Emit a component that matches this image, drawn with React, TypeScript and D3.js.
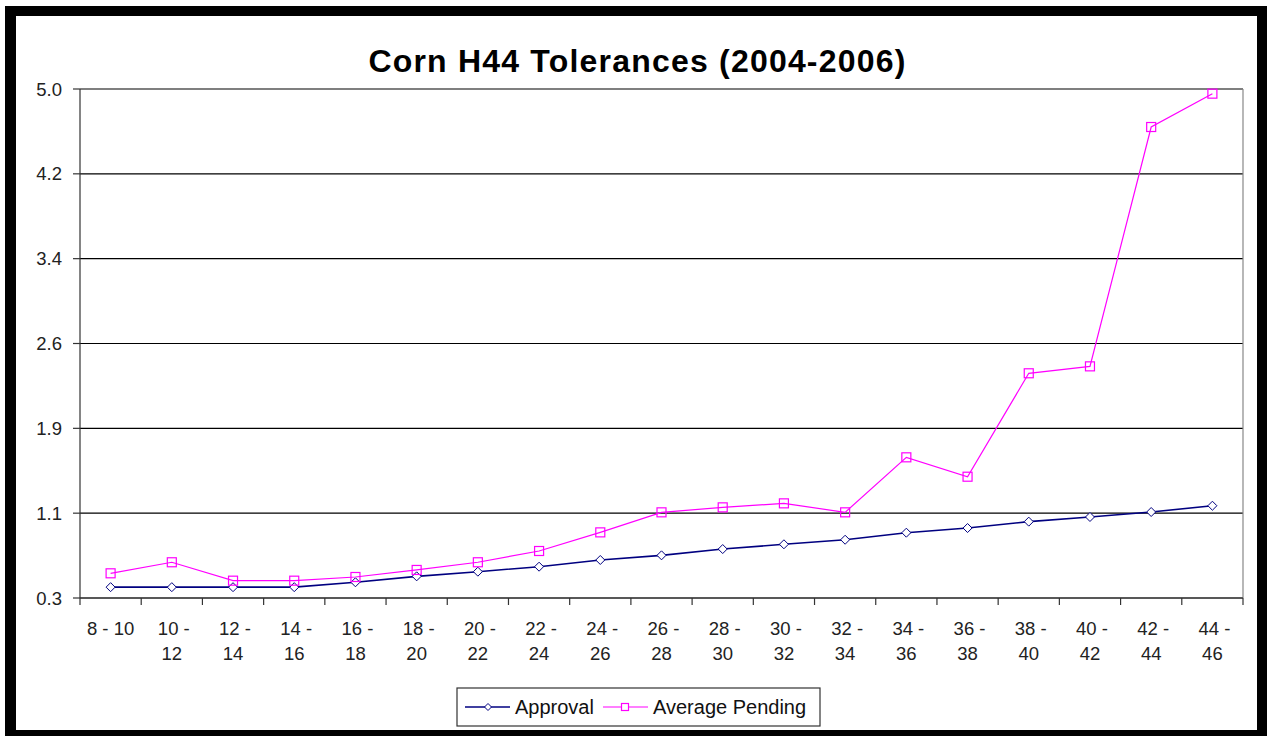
import * as d3 from 'd3';

const categories = [
  '8 - 10', '10 - 12', '12 - 14', '14 - 16', '16 - 18', '18 - 20', '20 - 22',
  '22 - 24', '24 - 26', '26 - 28', '28 - 30', '30 - 32', '32 - 34', '34 - 36',
  '36 - 38', '38 - 40', '40 - 42', '42 - 44', '44 - 46',
];

const approval = [
  0.40, 0.40, 0.40, 0.40, 0.445, 0.50, 0.543, 0.589, 0.651, 0.694,
  0.752, 0.796, 0.838, 0.903, 0.946, 1.005, 1.048, 1.094, 1.152,
];

const averagePending = [
  0.528, 0.63, 0.46, 0.46, 0.494, 0.559, 0.63, 0.734, 0.906, 1.091,
  1.137, 1.174, 1.091, 1.599, 1.42, 2.375, 2.439, 4.649, 4.957,
];

const yTickLabels = ['0.3', '1.1', '1.9', '2.6', '3.4', '4.2', '5.0'];
const yMin = 0.3;
const yMax = 5.0;

const W = 1267;
const H = 736;
const plot = { left: 80, right: 1243, top: 89, bottom: 598 };
const FONT = 'Arial, "Liberation Sans", sans-serif';
const NAVY = '#000080';
const MAGENTA = '#ff00ff';

function diamond(cx: number, cy: number, r: number) {
  return `M${cx},${cy - r}L${cx + r},${cy}L${cx},${cy + r}L${cx - r},${cy}Z`;
}

export default function App() {
  const x = d3
    .scaleBand<string>()
    .domain(categories)
    .range([plot.left, plot.right]);
  const y = d3.scaleLinear().domain([yMin, yMax]).range([plot.bottom, plot.top]);
  const cx = (c: string) => (x(c) || 0) + x.bandwidth() / 2;

  const yTicks = d3.range(yTickLabels.length).map((i) => yMin + (i * (yMax - yMin)) / (yTickLabels.length - 1));

  const line = d3
    .line<number>()
    .x((_, i) => cx(categories[i]))
    .y((d) => y(d));

  const boundaries = categories.map((c) => x(c) || 0).concat([plot.right]);

  return (
    <svg width={W} height={H} style={{ position: 'absolute', left: 0, top: 0, background: '#fff' }} fontFamily={FONT}>
      <rect x={5} y={6} width={W - 5} height={H - 6} fill="#000" />
      <rect x={16} y={16} width={1241} height={714} fill="#fff" />

      <text x={637.5} y={72} textAnchor="middle" fontSize={32} fontWeight="bold" letterSpacing={1.2} fill="#000">
        Corn H44 Tolerances (2004-2006)
      </text>

      {/* gridlines */}
      {yTicks.map((t, i) => (
        <line key={'g' + i} x1={plot.left} x2={plot.right} y1={y(t)} y2={y(t)} stroke="#000" strokeWidth={1.2} />
      ))}
      <line x1={plot.right} x2={plot.right} y1={plot.top} y2={plot.bottom} stroke="#888" strokeWidth={1.2} />

      {/* y axis */}
      <line x1={plot.left} x2={plot.left} y1={plot.top} y2={plot.bottom} stroke="#333" strokeWidth={1.2} />
      {yTicks.map((t, i) => (
        <g key={'y' + i}>
          <line x1={plot.left - 7} x2={plot.left} y1={y(t)} y2={y(t)} stroke="#333" strokeWidth={1.2} />
          <text x={62} y={y(t) + 6.5} textAnchor="end" fontSize={18.5} fill="#222">
            {yTickLabels[i]}
          </text>
        </g>
      ))}

      {/* x axis */}
      <line x1={plot.left} x2={plot.right} y1={plot.bottom} y2={plot.bottom} stroke="#333" strokeWidth={1.2} />
      {boundaries.map((b, i) => (
        <line key={'xt' + i} x1={b} x2={b} y1={plot.bottom} y2={plot.bottom + 7} stroke="#333" strokeWidth={1.2} />
      ))}
      {categories.map((c) => {
        const parts = c.split(' - ');
        const lines = c.length > 6 ? [parts[0] + ' -', parts[1]] : [c];
        return (
          <text key={'xl' + c} textAnchor="middle" fontSize={18.5} fill="#222">
            {lines.map((l, j) => (
              <tspan key={j} x={cx(c) + (lines.length > 1 && j === 0 ? 2 : 0)} y={635 + j * 25}>
                {l}
              </tspan>
            ))}
          </text>
        );
      })}

      {/* series */}
      <path d={line(approval) || ''} fill="none" stroke={NAVY} strokeWidth={1.6} />
      {approval.map((v, i) => (
        <path key={'a' + i} d={diamond(cx(categories[i]), y(v), 4.5)} fill="#fff" stroke={NAVY} strokeWidth={1} />
      ))}
      <path d={line(averagePending) || ''} fill="none" stroke={MAGENTA} strokeWidth={1.2} />
      {averagePending.map((v, i) => (
        <rect key={'p' + i} x={cx(categories[i]) - 4.5} y={y(v) - 4.5} width={9} height={9} fill="none" stroke={MAGENTA} strokeWidth={1.2} />
      ))}

      {/* legend */}
      <rect x={457} y={688} width={363} height={38} fill="#fff" stroke="#333" strokeWidth={1.2} />
      <line x1={465} x2={510} y1={707} y2={707} stroke={NAVY} strokeWidth={1.6} />
      <path d={diamond(488, 707, 3.5)} fill="#fff" stroke={NAVY} strokeWidth={1} />
      <text x={515} y={714} fontSize={20} fill="#111">Approval</text>
      <line x1={603} x2={648} y1={707} y2={707} stroke={MAGENTA} strokeWidth={1.2} />
      <rect x={621.5} y={703.5} width={7} height={7} fill="#fff" stroke={MAGENTA} strokeWidth={1.2} />
      <text x={653} y={714} fontSize={20} fill="#111">Average Pending</text>
    </svg>
  );
}
